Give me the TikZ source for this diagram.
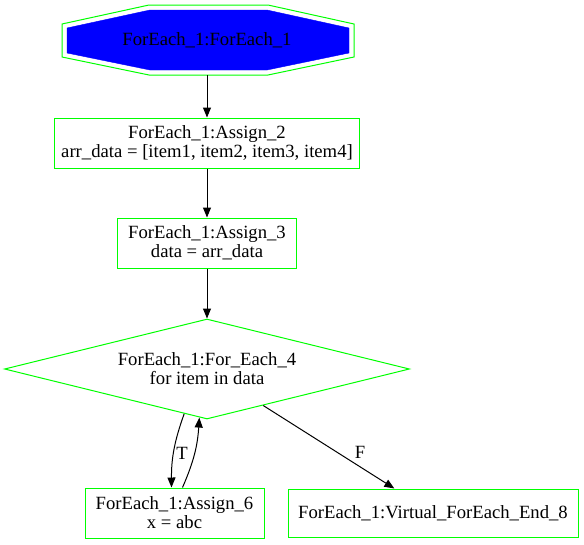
\documentclass[tikz,border=0pt]{standalone}
\usepackage{fontspec}
\setmainfont{Liberation Serif}
\usetikzlibrary{shapes.geometric,arrows.meta}
\definecolor{lgreen}{RGB}{0,255,0}
\begin{document}
\begin{tikzpicture}[x=1pt,y=1pt]
    \tikzstyle{every node}+=[inner sep=0pt,font=\fontsize{18.67}{19}\selectfont,align=center]
    \tikzstyle{box}=[draw=lgreen,line width=1pt,minimum height=50pt]
    \tikzstyle{edge}=[black,line width=1pt,-{Triangle[length=10pt,width=8pt]}]
    \useasboundingbox (0,0) rectangle (584,-544);
    \draw [lgreen,line width=1pt] (149,-5) -- (268,-5) -- (354,-24) -- (354,-57) -- (268,-75) -- (149,-75) -- (62,-57) -- (62,-24) -- cycle;
    \filldraw [fill=blue,draw=blue] (150,-10) -- (267,-10) -- (349,-28) -- (349,-53) -- (267,-70) -- (150,-70) -- (67,-53) -- (67,-28) -- cycle;
    \node (start) at (207,-40) [minimum width=292pt,minimum height=70pt] {ForEach\_1:ForEach\_1};
    \node [box,minimum width=305pt] (assign2) at (207,-143) {ForEach\_1:Assign\_2\\arr\_data = [item1, item2, item3, item4]};
    \node [box,minimum width=179pt] (assign3) at (207,-243) {ForEach\_1:Assign\_3\\data = arr\_data};
    \node [draw=lgreen,line width=1pt,diamond,aspect=4.05,minimum width=405pt,minimum height=100pt] (loop) at (207,-369) {ForEach\_1:For\_Each\_4\\for item in data};
    \node [box,minimum width=179pt] (assign6) at (174.5,-513) {ForEach\_1:Assign\_6\\x = abc};
    \node [box,minimum width=290pt,minimum height=48pt] (end) at (433,-513) {ForEach\_1:Virtual\_ForEach\_End\_8};
    \draw [edge] (start) -- (assign2);
    \draw [edge] (assign2) -- (assign3);
    \draw [edge] (assign3) -- (loop);
    \draw [edge] (loop.243) to [bend right=10] ([xshift=-3pt]assign6.north);
    \draw (182,-453) node {T};
    \draw [edge] ([xshift=8pt]assign6.north) to [bend right=10] (loop.261);
    \draw [edge] (loop.327) -- (end);
    \draw (360,-452) node {F};
\end{tikzpicture}
\end{document}
